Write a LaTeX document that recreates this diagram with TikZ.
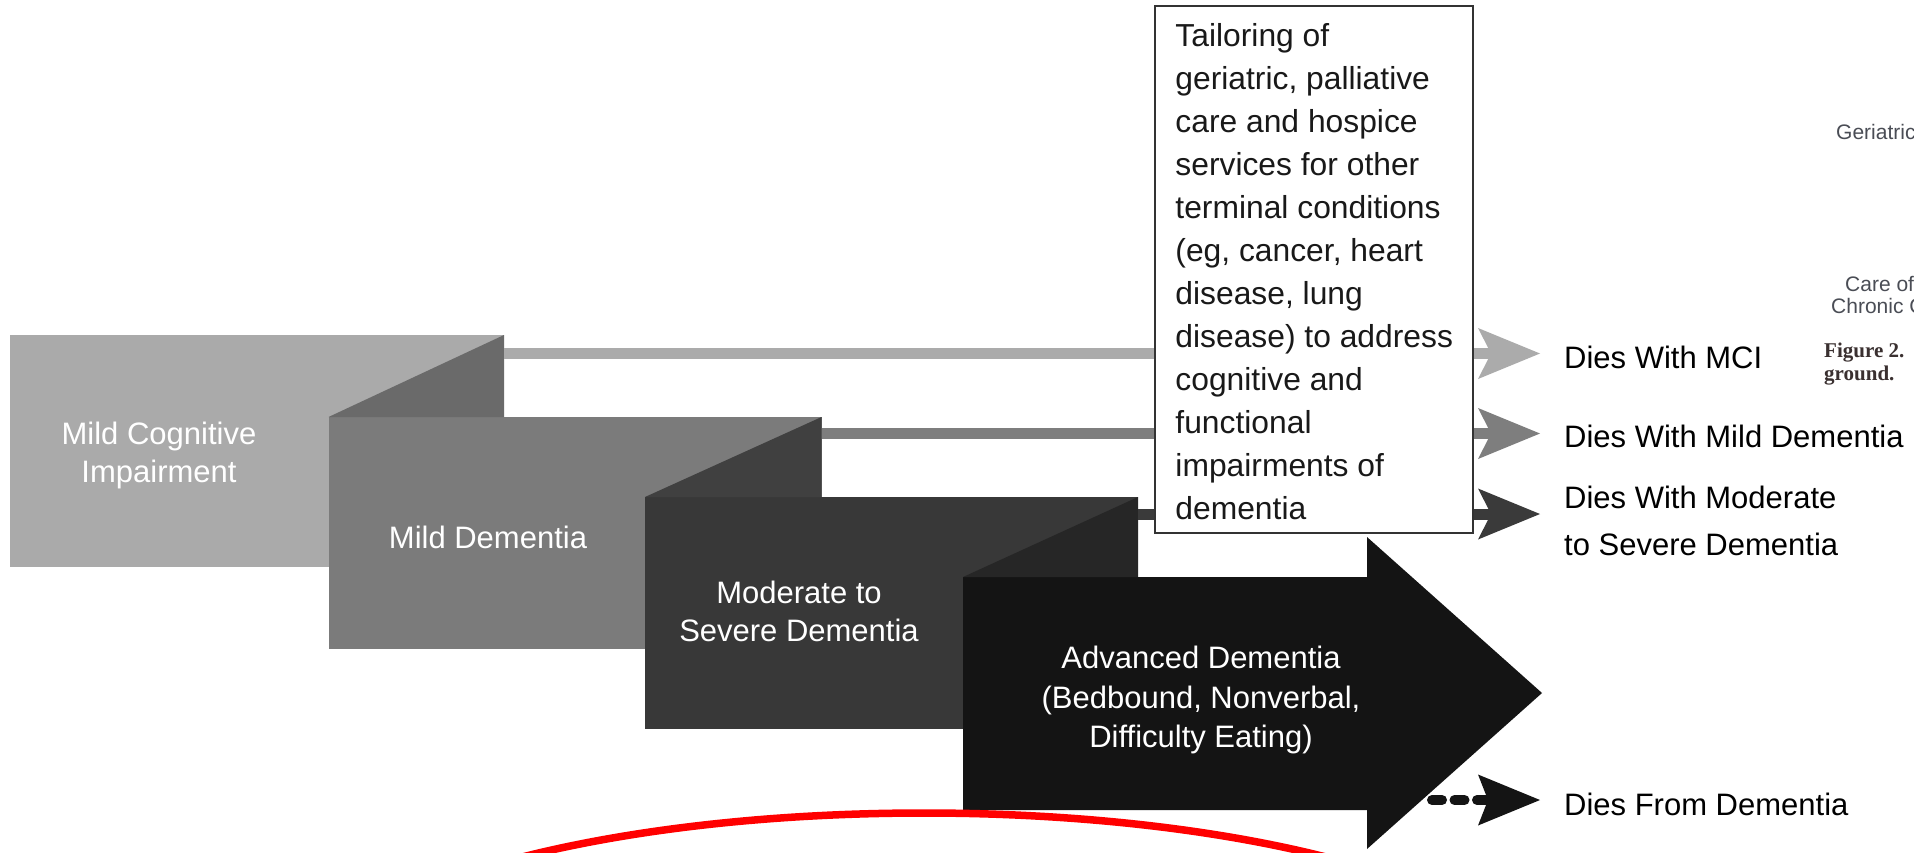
\documentclass[tikz,border=0pt]{standalone}
\usepackage{fontspec}
\setmainfont{Liberation Sans}
\newfontfamily\serifbold{Liberation Serif}
\usetikzlibrary{arrows.meta,calc}
\definecolor{gA}{HTML}{AAAAAA}
\definecolor{gAfold}{HTML}{6A6A6A}
\definecolor{gB}{HTML}{7B7B7B}
\definecolor{gBfold}{HTML}{404040}
\definecolor{gC}{HTML}{383838}
\definecolor{gCfold}{HTML}{262626}
\definecolor{gD}{HTML}{141414}
\definecolor{barA}{HTML}{ABABAB}
\definecolor{barB}{HTML}{7E7E7E}
\definecolor{barC}{HTML}{3A3A3A}
\definecolor{boxedge}{HTML}{333333}
\definecolor{cropgray}{HTML}{4A4D55}
\definecolor{cropserif}{HTML}{3A3030}
\begin{document}
\begin{tikzpicture}[x=1pt,y=-1pt,
  stage/.style={inner sep=0pt,outer sep=0pt,draw=none,minimum width=493pt,minimum height=232pt},
  boxlbl/.style={anchor=north,text=white,align=center,inner sep=0pt,font=\fontsize{31}{38}\selectfont},
  endlbl/.style={anchor=north west,align=left,inner sep=0pt,font=\fontsize{31}{47}\selectfont},
  bar/.style={line width=11pt,-{Stealth[length=62pt,width=51pt,inset=13pt,line width=0pt]}},
  crop/.style={anchor=base west,inner sep=0pt,text=cropgray,font=\fontsize{21}{23}\selectfont},
  cropser/.style={anchor=base west,inner sep=0pt,text=cropserif,font=\serifbold\bfseries\fontsize{21}{24}\selectfont}
  ]
\useasboundingbox (0,0) rectangle (1914,852);
\clip (0,0) rectangle (1914,852);
\fill[white] (0,0) rectangle (1914,852);

% stage boxes
\node[stage,fill=gA,minimum width=494pt] (mci) at (257,451) {};
\node[stage,fill=gB] (mild) at (575,533) {};
\fill[gAfold] (mild.north west) -- (mci.north east) -- (mci.north east |- mild.north) -- cycle;
\node[stage,fill=gC] (mod) at (891.5,613) {};
\fill[gBfold] (mod.north west) -- (mild.north east) -- (mild.north east |- mod.north) -- cycle;

% advanced dementia arrow
\coordinate (aNW) at (963,577);
\coordinate (aSW) at (963,810);
\coordinate (hT) at (1367,537);
\coordinate (tip) at (1542,693);
\coordinate (hB) at (1367,849);
\fill[gD] (aNW) -- (hT |- aNW) -- (hT) -- (tip) -- (hB) -- (hB |- aSW) -- (aSW) -- cycle;
\fill[gCfold] (aNW) -- (mod.north east) -- (mod.north east |- aNW) -- cycle;

% labels in boxes
\node[boxlbl] (mcitxt) at (159,422) {Mild Cognitive\\Impairment};
\node[boxlbl] (mildtxt) at (488,526) {Mild Dementia};
\node[boxlbl] (modtxt) at (799,581) {Moderate to\\Severe Dementia};
\node[boxlbl,font=\fontsize{31}{39.5}\selectfont] (advtxt) at (1201,646) {Advanced Dementia\\(Bedbound, Nonverbal,\\Difficulty Eating)};

% red annotation
\draw[red,line width=7.5pt] (924,1001) ellipse [x radius=625pt,y radius=188pt];

% outcome arrows
\coordinate (eA) at (1540,353.5);
\coordinate (eB) at (1540,433.5);
\coordinate (eC) at (1540,514);
\coordinate (dS) at (1432,800);
\coordinate (eD) at (1540,800);
\draw[bar,barA] ($(mci.north east)+(0,18.5)$) -- (eA);
\draw[bar,barB] ($(mild.north east)+(0,16.5)$) -- (eB);
\draw[bar,barC] ($(mod.north east)+(0,17)$) -- (eC);
\draw[gD,line width=10pt,line cap=round,dash pattern=on 10pt off 12.5pt,
      -{Stealth[length=62pt,width=51pt,inset=10pt,line width=0pt]}] (dS) -- (eD);

% care box
\node[draw=boxedge,fill=white,line width=1.5pt,inner sep=0pt,minimum width=318pt,minimum height=527pt] (care) at (1314,269.5) {};
\node[anchor=north west,align=left,inner sep=0pt,font=\fontsize{31.8}{43}\selectfont,text=black!90] (caretxt) at ($(care.north west)+(21,18)$)
 {Tailoring of\\geriatric, palliative\\care and hospice\\services for other\\terminal conditions\\(eg, cancer, heart\\disease, lung\\disease) to address\\cognitive and\\functional\\impairments of\\dementia};

% outcome labels
\node[endlbl] (dA) at (1564,346) {Dies With MCI};
\node[endlbl] (dB) at (1564,425) {Dies With Mild Dementia};
\node[endlbl] (dC) at (1564,486) {Dies With Moderate\\to Severe Dementia};
\node[endlbl] (dD) at (1564,793) {Dies From Dementia};

% cropped neighbouring figure text
\node[crop] (ger) at (1836,139) {Geriatric};
\node[crop] (careof) at (1845,291) {Care of};
\node[crop] (chron) at (1831,313) {Chronic C};
\node[cropser] (fig) at (1824,357) {Figure 2.};
\node[cropser] (grd) at (1824,380) {ground.};
\end{tikzpicture}
\end{document}
